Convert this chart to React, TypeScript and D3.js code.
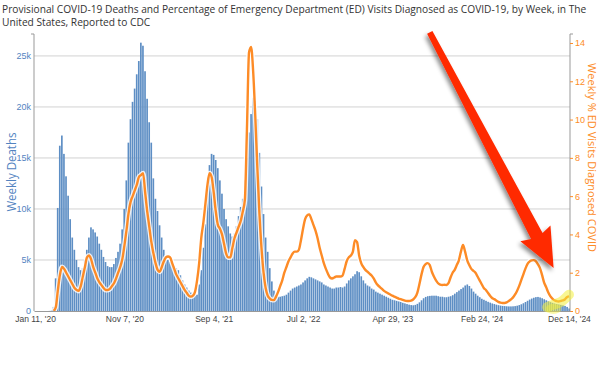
import React, { useEffect, useRef } from 'react'
import * as d3 from 'd3'

const W = 600
const H = 366

const titleLines = [
  'Provisional COVID-19 Deaths and Percentage of Emergency Department (ED) Visits Diagnosed as COVID-19, by Week, in The',
  'United States, Reported to CDC',
]

// x axis: week index from Jan 11, 2020
const tickWeeks = [0, 43, 86, 129, 172, 215, 257]
const tickLabels = ["Jan 11, '20", "Nov 7, '20", "Sep 4, '21", "Jul 2, '22", "Apr 29, '23", "Feb 24, '24", "Dec 14, '24"]
const deathTicks = [0, 5000, 10000, 15000, 20000, 25000]
const pctTicks = [0, 2, 4, 6, 8, 10, 12, 14]

// weekly deaths, Jan 11 2020 .. Dec 14 2024
const weeklyDeaths = [
  0, 0, 0, 0, 0, 0, 0, 10, 30, 400,
  3200, 10100, 16200, 17200, 15400, 13200, 11300, 9000, 7200, 6000,
  5000, 4300, 4000, 4200, 5000, 6000, 7200, 8200, 8000, 7700,
  7300, 6600, 6000, 5300, 4800, 4400, 4300, 4300, 4600, 5200,
  5800, 6600, 8000, 10000, 12800, 16500, 18800, 20500, 21800, 23200,
  24500, 26300, 26000, 23500, 20800, 18500, 16500, 13000, 11000, 9800,
  8400, 7200, 6000, 5400, 5000, 4800, 4600, 4400, 4200, 4000,
  3500, 3000, 2600, 2300, 2000, 1800, 1600, 1500, 1600, 2600,
  4000, 6200, 8500, 12000, 14300, 15400, 15300, 14800, 14000, 12800,
  11500, 10000, 9000, 8300, 7600, 7300, 7600, 8300, 9300, 10200,
  11000, 12800, 15000, 17500, 19300, 20900, 20600, 18800, 15500, 12200,
  9500, 7200, 5800, 4200, 2900, 2000, 1500, 1400, 1400, 1450,
  1500, 1600, 1800, 2000, 2200, 2300, 2400, 2500, 2600, 2800,
  3000, 3200, 3350, 3300, 3200, 3100, 3000, 2900, 2800, 2600,
  2500, 2400, 2300, 2200, 2200, 2300, 2300, 2350, 2300, 2400,
  2700, 3000, 3200, 3400, 3600, 3900, 3800, 3400, 3000, 2700,
  2500, 2400, 2200, 2100, 1900, 1800, 1700, 1600, 1500, 1400,
  1300, 1200, 1100, 1050, 1000, 950, 900, 820, 750, 680,
  620, 580, 560, 600, 700, 850, 1050, 1250, 1380, 1450,
  1480, 1500, 1500, 1500, 1450, 1400, 1400, 1350, 1350, 1400,
  1450, 1550, 1700, 1850, 2000, 2150, 2300, 2500, 2600, 2450,
  2200, 1900, 1700, 1500, 1350, 1200, 1100, 1000, 900, 820,
  740, 680, 620, 570, 530, 500, 480, 460, 450, 450,
  460, 480, 520, 580, 660, 760, 880, 1000, 1120, 1220,
  1300, 1360, 1380, 1330, 1250, 1150, 1050, 950, 870, 800,
  740, 690, 640, 600, 560, 500, 400, 250,
]

// weekly % of ED visits diagnosed as COVID (null = not reported yet)
const edPercent = [
  null, null, null, null, null, null, null, null, null, 0,
  0.2, 1.1, 1.9, 2.3, 2.2, 2.0, 1.8, 1.6, 1.4, 1.2,
  1.1, 1.05, 1.3, 1.8, 2.3, 2.8, 2.9, 2.7, 2.3, 2.0,
  1.7, 1.5, 1.35, 1.2, 1.1, 1.1, 1.15, 1.3, 1.45, 1.7,
  2.0, 2.3, 2.7, 3.4, 4.2, 5.1, 5.7, 6.0, 6.3, 6.6,
  7.0, 7.1, 7.2, 6.2, 5.2, 4.4, 3.6, 3.0, 2.5, 2.15,
  2.05, 2.3, 2.6, 2.8, 2.85, 2.8, 2.5, 2.2, 1.9, 1.7,
  1.5, 1.3, 1.1, 0.95, 0.8, 0.75, 0.8, 1.0, 1.6, 2.5,
  3.8, 4.6, 5.6, 6.6, 7.2, 7.0, 6.2, 5.2, 4.5, 4.3,
  4.0, 3.5, 3.0, 2.8, 2.8, 3.3, 3.8, 4.1, 4.4, 4.7,
  5.2, 5.8, 9.5, 13.5, 13.8, 12.5, 10.2, 7.5, 5.1, 3.3,
  2.0, 1.2, 0.8, 0.65, 0.58, 0.57, 0.75, 1.0, 1.3, 1.6,
  2.0, 2.3, 2.6, 2.8, 3.0, 3.1, 3.1, 3.2, 3.7, 4.3,
  4.8, 5.0, 5.05, 4.8, 4.5, 4.2, 3.8, 3.3, 2.9, 2.5,
  2.2, 1.95, 1.75, 1.7, 1.75, 1.8, 1.8, 1.8, 1.85, 2.2,
  2.6, 2.8, 2.9, 3.1, 3.7, 3.6, 2.9, 2.5, 2.3, 2.15,
  2.05, 1.95, 1.85, 1.7, 1.5, 1.35, 1.25, 1.15, 1.05, 0.98,
  0.92, 0.86, 0.8, 0.75, 0.7, 0.65, 0.62, 0.58, 0.54, 0.52,
  0.52, 0.54, 0.6, 0.72, 0.95, 1.4, 1.9, 2.3, 2.45, 2.5,
  2.4, 2.05, 1.8, 1.6, 1.45, 1.38, 1.36, 1.37, 1.36, 1.45,
  1.75, 2.0, 2.15, 2.4, 2.65, 3.1, 3.45, 3.1, 2.66, 2.4,
  2.2, 2.1, 2.0, 1.8, 1.6, 1.4, 1.2, 1.1, 0.95, 0.8,
  0.68, 0.62, 0.55, 0.48, 0.44, 0.42, 0.42, 0.45, 0.52, 0.6,
  0.7, 0.85, 1.05, 1.3, 1.6, 1.9, 2.2, 2.45, 2.58, 2.64,
  2.66, 2.6, 2.45, 2.25, 1.9, 1.5, 1.25, 0.98, 0.78, 0.65,
  0.56, 0.52, 0.5, 0.52, 0.55, 0.6, 0.72, 0.78,
]

// annotation anchors in data units: [week index, % ED]
const arrowFrom = [190, 14.55]
const arrowTo = [249.6, 2.25]
const highlightPath = [[246.5, 0.2], [250, 0.35], [253.5, 0.5], [257, 0.85]]
const highlightBlob = [249.5, 0.1]

const BLUE = '#5d8ec4'
const BLUE_TEXT = '#5283bf'
const ORANGE = '#fd8b26'

export default function App() {
  const svgRef = useRef<SVGSVGElement>(null)

  useEffect(() => {
    const svg = d3.select(svgRef.current)
    svg.selectAll('*').remove()

    const left = 34, right = 570, top = 34, bottom = 311
    const n = weeklyDeaths.length

    const x = d3.scaleBand<number>()
      .domain(weeklyDeaths.map((_, i) => i))
      .range([left, right])
      .paddingInner(0.2)
    // continuous version of x, for the line and annotations
    const xc = d3.scaleLinear().domain([-0.5, n - 0.5]).range([left, right])
    const yL = d3.scaleLinear().domain([0, 27150]).range([bottom, top])
    const yR = d3.scaleLinear().domain([0, 14.47]).range([bottom, top])

    // title
    svg.append('g')
      .selectAll('text')
      .data(titleLines)
      .join('text')
      .attr('x', 2)
      .attr('y', (_, i) => 13 + i * 13)
      .attr('font-family', 'Open Sans')
      .attr('font-size', 10.2)
      .attr('fill', '#333')
      .text(d => d)

    // gridlines
    svg.append('g')
      .selectAll('line')
      .data(deathTicks.slice(1))
      .join('line')
      .attr('x1', left).attr('x2', right)
      .attr('y1', d => yL(d)).attr('y2', d => yL(d))
      .attr('stroke', '#d2d2d2')
      .attr('stroke-width', 1)

    // bars
    svg.append('g')
      .selectAll('rect')
      .data(weeklyDeaths)
      .join('rect')
      .attr('x', (_, i) => x(i)!)
      .attr('width', x.bandwidth())
      .attr('y', d => yL(d))
      .attr('height', d => bottom - yL(d))
      .attr('fill', BLUE)

    // ED % line with white halo
    const line = d3.line<number | null>()
      .defined(d => d != null)
      .x((_, i) => xc(i))
      .y(d => yR(d as number))
      .curve(d3.curveMonotoneX)
    svg.append('path')
      .attr('d', line(edPercent))
      .attr('fill', 'none')
      .attr('stroke', '#fff')
      .attr('stroke-opacity', 0.85)
      .attr('stroke-width', 5)
      .attr('stroke-linejoin', 'round')
    svg.append('path')
      .attr('d', line(edPercent))
      .attr('fill', 'none')
      .attr('stroke', ORANGE)
      .attr('stroke-width', 2.4)
      .attr('stroke-linejoin', 'round')

    // axes
    const axisFont = 'Liberation Sans, Arial, sans-serif'
    const gL = svg.append('g')
      .attr('transform', `translate(${left},0)`)
      .call(d3.axisLeft(yL).tickValues(deathTicks)
        .tickFormat(d => (+d === 0 ? '0' : `${+d / 1000}k`))
        .tickSize(0).tickPadding(3))
    gL.select('.domain').attr('stroke', '#999').attr('d', `M-3,${top}H0V${bottom}`)
    gL.selectAll('text').attr('fill', BLUE_TEXT).attr('font-size', 9).attr('font-family', axisFont)

    const gR = svg.append('g')
      .attr('transform', `translate(${right},0)`)
      .call(d3.axisRight(yR).tickValues(pctTicks).tickSize(3).tickPadding(2))
    gR.select('.domain').attr('stroke', '#999').attr('d', `M3,${top}H0V${bottom}`)
    gR.selectAll('.tick line').attr('stroke', ORANGE)
    gR.selectAll('text').attr('fill', ORANGE).attr('font-size', 9).attr('font-family', axisFont)

    const gX = svg.append('g')
      .attr('transform', `translate(0,${bottom})`)
      .call(d3.axisBottom(xc).tickValues(tickWeeks)
        .tickFormat((_, i) => tickLabels[i])
        .tickSize(0).tickPadding(5))
    gX.select('.domain').attr('stroke', '#999')
    gX.selectAll('text').attr('fill', '#444').attr('font-size', 8.5).attr('font-family', axisFont)

    // axis titles
    svg.append('text')
      .attr('transform', 'translate(16,172) rotate(-90)')
      .attr('text-anchor', 'middle')
      .attr('font-family', 'Open Sans')
      .attr('font-size', 12)
      .attr('textLength', 79)
      .attr('lengthAdjust', 'spacingAndGlyphs')
      .attr('fill', BLUE_TEXT)
      .text('Weekly Deaths')
    svg.append('text')
      .attr('transform', 'translate(588,157.5) rotate(90)')
      .attr('text-anchor', 'middle')
      .attr('font-family', 'Open Sans')
      .attr('font-size', 11)
      .attr('textLength', 189)
      .attr('lengthAdjust', 'spacingAndGlyphs')
      .attr('fill', ORANGE)
      .text('Weekly % ED Visits Diagnosed COVID')

    // yellow highlighter over the latest weeks
    svg.append('ellipse')
      .attr('cx', xc(highlightBlob[0]))
      .attr('cy', yR(highlightBlob[1]))
      .attr('rx', 8)
      .attr('ry', 5)
      .attr('fill', '#f3ee3a')
      .attr('fill-opacity', 0.45)
    svg.append('path')
      .attr('d', d3.line<number[]>().x(d => xc(d[0])).y(d => yR(d[1])).curve(d3.curveCatmullRom)(highlightPath))
      .attr('fill', 'none')
      .attr('stroke', '#f3ee3a')
      .attr('stroke-opacity', 0.55)
      .attr('stroke-width', 10)
      .attr('stroke-linecap', 'round')

    // red arrow pointing at the latest weeks
    const defs = svg.append('defs')
    const f = defs.append('filter').attr('id', 'shadow').attr('x', '-20%').attr('y', '-20%').attr('width', '140%').attr('height', '140%')
    f.append('feDropShadow').attr('dx', -2).attr('dy', 3).attr('stdDeviation', 2)
      .attr('flood-color', '#000').attr('flood-opacity', 0.45)

    const x0 = xc(arrowFrom[0]), y0 = yR(arrowFrom[1])
    const x1 = xc(arrowTo[0]), y1 = yR(arrowTo[1])
    const len = Math.hypot(x1 - x0, y1 - y0)
    const ux = (x1 - x0) / len, uy = (y1 - y0) / len
    const nx = -uy, ny = ux
    const headLen = 36, headHalf = 17
    const bx = x1 - ux * headLen, by = y1 - uy * headLen
    const pt = (px: number, py: number, k: number) => [px + nx * k, py + ny * k]
    const arrow = [
      pt(x0, y0, 3), pt(bx, by, 6.5), pt(bx - ux * 3, by - uy * 3, headHalf), [x1, y1],
      pt(bx - ux * 3, by - uy * 3, -headHalf), pt(bx, by, -6.5), pt(x0, y0, -3),
    ]
    svg.append('path')
      .attr('d', 'M' + arrow.map(p => p.join(',')).join('L') + 'Z')
      .attr('fill', '#ff2a00')
      .attr('filter', 'url(#shadow)')
  }, [])

  return (
    <svg ref={svgRef} width={W} height={H} style={{ position: 'absolute', left: 0, top: 0, background: '#fff' }} />
  )
}
